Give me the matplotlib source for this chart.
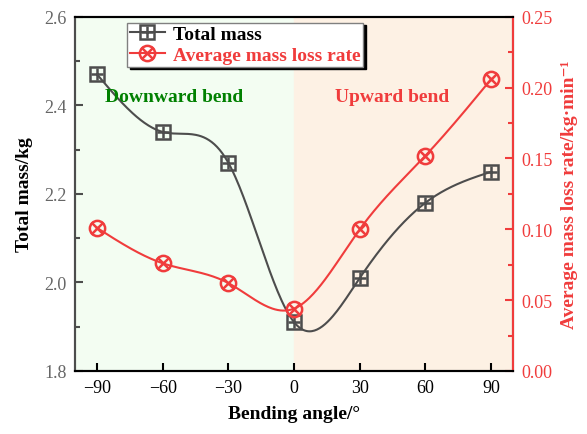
import numpy as np
import matplotlib.pyplot as plt
from matplotlib.ticker import MultipleLocator, AutoMinorLocator

plt.rcParams['font.family'] = ['Liberation Serif', 'DejaVu Serif']
plt.rcParams['font.size'] = 12

angle = [-90, -60, -30, 0, 30, 60, 90]
total_mass = [2.47, 2.34, 2.27, 1.91, 2.01, 2.18, 2.25]
loss_rate = [0.101, 0.076, 0.062, 0.044, 0.100, 0.152, 0.206]

BLACK = '#4d4d4d'
RED = '#f03c3c'


def smooth(x, y, n=300):
	# natural cubic spline through the data points, for the line only
	x = np.asarray(x, float)
	y = np.asarray(y, float)
	k = len(x)
	h = np.diff(x)
	A = np.zeros((k, k))
	b = np.zeros(k)
	A[0, 0] = A[-1, -1] = 1
	for i in range(1, k - 1):
		A[i, i - 1] = h[i - 1]
		A[i, i] = 2 * (h[i - 1] + h[i])
		A[i, i + 1] = h[i]
		b[i] = 6 * ((y[i + 1] - y[i]) / h[i] - (y[i] - y[i - 1]) / h[i - 1])
	M = np.linalg.solve(A, b)
	xs = np.linspace(x[0], x[-1], n)
	idx = np.clip(np.searchsorted(x, xs) - 1, 0, k - 2)
	x0, x1 = x[idx], x[idx + 1]
	hh = x1 - x0
	t0, t1 = x1 - xs, xs - x0
	ys = (M[idx] * t0 ** 3 + M[idx + 1] * t1 ** 3) / (6 * hh) \
		+ (y[idx] / hh - M[idx] * hh / 6) * t0 + (y[idx + 1] / hh - M[idx + 1] * hh / 6) * t1
	return xs, ys


fig = plt.figure(figsize=(5.87, 4.35), dpi=100)
ax = fig.add_axes([0.128, 0.145, 0.746, 0.814])
ax2 = ax.twinx()

ax.axvspan(-100, 0, color='#f3fdf2', zorder=0)
ax.axvspan(0, 100, color='#fdf1e4', zorder=0)

xs, ys = smooth(angle, total_mass)
l1, = ax.plot(xs, ys, color=BLACK, lw=1.5, zorder=3)
m1, = ax.plot(angle, total_mass, ls='none', marker='s', ms=10, mfc='none', mec=BLACK, mew=1.8, zorder=4)
p1, = ax.plot(angle, total_mass, ls='none', marker='+', ms=9, mec=BLACK, mew=1.8, zorder=4)

xs, ys = smooth(angle, loss_rate)
l2, = ax2.plot(xs, ys, color=RED, lw=1.5, zorder=3)
m2, = ax2.plot(angle, loss_rate, ls='none', marker='o', ms=11, mfc='none', mec=RED, mew=1.8, zorder=4)
p2, = ax2.plot(angle, loss_rate, ls='none', marker='x', ms=9, mec=RED, mew=1.8, zorder=4)

ax.set_xlim(-100, 100)
ax.set_ylim(1.8, 2.6)
ax2.set_ylim(0, 0.25)
ax.set_xticks(angle)
ax.yaxis.set_major_locator(MultipleLocator(0.2))
ax.yaxis.set_minor_locator(AutoMinorLocator(2))
ax2.yaxis.set_major_locator(MultipleLocator(0.05))
ax2.yaxis.set_minor_locator(AutoMinorLocator(2))
ax.yaxis.set_major_formatter(plt.FormatStrFormatter('%.1f'))
ax2.yaxis.set_major_formatter(plt.FormatStrFormatter('%.2f'))

ax.tick_params(axis='x', direction='in', length=6, width=1.5, colors='black', labelsize=13, pad=6)
ax.tick_params(axis='y', which='major', direction='in', length=6, width=1.5, color=BLACK, labelcolor='#666666', labelsize=13, pad=6)
ax.tick_params(axis='y', which='minor', direction='in', length=3.5, width=1.5, color=BLACK)
ax2.tick_params(axis='y', which='major', direction='in', length=6, width=1.5, color=RED, labelcolor=RED, labelsize=13, pad=6)
ax2.tick_params(axis='y', which='minor', direction='in', length=3.5, width=1.5, color=RED)

for a in (ax, ax2):
	for s in a.spines.values():
		s.set_linewidth(1.5)
ax.spines['left'].set_color(BLACK)
ax2.spines['left'].set_color(BLACK)
ax2.spines['right'].set_color(RED)
ax.spines['top'].set_color('black')
ax.spines['bottom'].set_color('black')

ax.set_xlabel('Bending angle/°', fontweight='bold', fontsize=14, labelpad=6)
ax.set_ylabel('Total mass/kg', fontweight='bold', fontsize=14, labelpad=8)
ax2.set_ylabel('Average mass loss rate/kg·min⁻¹', fontweight='bold', fontsize=14, color=RED, labelpad=6)

ax.text(-55, 2.42, 'Downward bend', color='#008000', fontweight='bold', fontsize=14, ha='center', va='center', zorder=5)
ax.text(45, 2.42, 'Upward bend', color=RED, fontweight='bold', fontsize=14, ha='center', va='center', zorder=5)

leg = ax2.legend([(l1, m1, p1), (l2, m2, p2)], ['Total mass', 'Average mass loss rate'],
	loc='upper left', bbox_to_anchor=(0.105, 1.0), fancybox=False, shadow={'color': 'black', 'alpha': 1},
	edgecolor='#808080', framealpha=1, borderpad=0.15, handletextpad=0.4, labelspacing=0.15,
	handlelength=1.8, borderaxespad=0.3, prop={'family': 'Liberation Serif', 'weight': 'bold', 'size': 14})
leg.get_frame().set_linewidth(1)
leg.get_texts()[1].set_color(RED)

fig.savefig('out.png', dpi=100)
